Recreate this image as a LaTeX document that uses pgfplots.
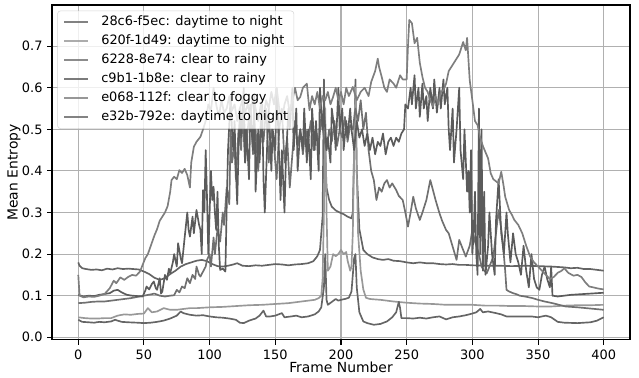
\documentclass[border=0pt]{standalone}
\usepackage{fontspec}
\setmainfont{DejaVu Sans}
\usepackage{pgfplots}
\pgfplotsset{compat=1.18}
\definecolor{cA}{HTML}{646464}
\definecolor{cB}{HTML}{989898}
\definecolor{cC}{HTML}{707070}
\definecolor{cD}{HTML}{5B5B5B}
\definecolor{cE}{HTML}{7E7E7E}
\definecolor{cF}{HTML}{656565}
\definecolor{gridgray}{HTML}{B0B0B0}
\definecolor{legendgray}{HTML}{CCCCCC}
\begin{document}
\begin{tikzpicture}
\begin{axis}[
 width=416.2pt, height=241.2pt, scale only axis,
 xmin=-20, xmax=420, ymin=-0.0065, ymax=0.799,
 xtick={0,50,100,150,200,250,300,350,400},
 xticklabels={0,50,100,150,200,250,300,350,400},
 ytick={0,0.1,0.2,0.3,0.4,0.5,0.6,0.7},
 yticklabels={0.0,0.1,0.2,0.3,0.4,0.5,0.6,0.7},
 grid=major, major grid style={color=gridgray, line width=0.75pt},
 axis line style={line width=0.75pt},
 tick style={black, line width=0.75pt}, major tick length=3.3pt, tick align=outside,
 xtick pos=left, ytick pos=left,
 tick label style={font=\fontsize{9.3}{11}\selectfont},
 label style={font=\fontsize{9.3}{11}\selectfont},
 xlabel={Frame Number}, ylabel={Mean Entropy},
 every axis x label/.style={at={(axis description cs:0.5,-0.083)}, anchor=center},
 every axis y label/.style={at={(axis description cs:-0.0658,0.5)}, rotate=90, anchor=center},
 legend cell align=left,
 legend style={at={(axis description cs:0.0092,0.983)}, anchor=north west, draw=legendgray, rounded corners=2pt, fill=white, fill opacity=0.8, draw opacity=0.8, text opacity=1, font=\fontsize{9.3}{11}\selectfont, inner xsep=4pt, inner ysep=3.65pt, row sep=4.68pt, nodes={inner sep=0pt, text height=7pt, text depth=2pt}, /tikz/every odd column/.append style={column sep=9pt}},
 legend image post style={line width=1.4pt},
 every axis plot/.append style={line width=1.2pt, line join=round},
]
% 28c6-f5ec
\addplot[cA] coordinates {(0,0.18) (1,0.172) (3,0.166) (6,0.164) (10,0.162) (14,0.163) (18,0.161) (22,0.165) (26,0.163) (30,0.166) (34,0.164) (38,0.165) (42,0.164) (46,0.163) (50,0.158) (54,0.152) (58,0.143) (62,0.138) (66,0.142) (70,0.152) (74,0.16) (78,0.17) (82,0.176) (86,0.18) (90,0.184) (94,0.186) (98,0.183) (102,0.176) (106,0.171) (110,0.17) (114,0.172) (118,0.175) (121,0.178) (125,0.172) (130,0.171) (135,0.173) (140,0.172) (145,0.174) (150,0.176) (155,0.175) (160,0.173) (165,0.175) (170,0.176) (175,0.178) (179,0.183) (182,0.195) (184,0.21) (186,0.29) (187,0.62) (188,0.45) (189,0.36) (191,0.33) (193,0.314) (196,0.305) (199,0.3) (202,0.296) (205,0.29) (208,0.286) (209,0.3) (210,0.45) (211,0.62) (212,0.4) (214,0.26) (217,0.21) (220,0.2) (224,0.192) (228,0.188) (232,0.186) (236,0.188) (240,0.184) (245,0.183) (250,0.18) (255,0.178) (260,0.18) (265,0.178) (270,0.178) (275,0.176) (280,0.175) (285,0.176) (290,0.174) (295,0.174) (300,0.173) (310,0.172) (320,0.172) (330,0.171) (340,0.172) (350,0.171) (360,0.17) (370,0.168) (375,0.166) (380,0.167) (385,0.164) (390,0.164) (395,0.162) (400,0.16)};
\addlegendentry{28c6-f5ec: daytime to night}
% 620f-1d49
\addplot[cB] coordinates {(0,0.048) (5,0.046) (10,0.045) (15,0.045) (20,0.046) (25,0.046) (30,0.052) (35,0.055) (40,0.054) (45,0.056) (50,0.057) (53,0.07) (56,0.06) (60,0.062) (65,0.07) (70,0.066) (75,0.066) (80,0.068) (85,0.07) (90,0.07) (95,0.071) (100,0.072) (110,0.073) (120,0.075) (130,0.077) (140,0.078) (150,0.08) (160,0.082) (170,0.086) (175,0.088) (180,0.09) (183,0.094) (185,0.1) (186,0.14) (187,0.3) (188,0.55) (189,0.3) (190,0.16) (192,0.17) (194,0.2) (196,0.195) (198,0.2) (200,0.21) (202,0.2) (204,0.205) (205,0.185) (207,0.16) (208,0.17) (209,0.25) (210,0.45) (211,0.6) (212,0.4) (213,0.25) (215,0.16) (217,0.115) (219,0.095) (222,0.092) (226,0.091) (230,0.09) (240,0.086) (250,0.083) (260,0.081) (270,0.08) (280,0.078) (290,0.078) (300,0.078) (310,0.076) (320,0.076) (330,0.075) (340,0.075) (350,0.074) (360,0.074) (370,0.076) (380,0.077) (390,0.077) (400,0.078)};
\addlegendentry{620f-1d49: daytime to night}
% 6228-8e74
\addplot[cC] coordinates {(0,0.082) (5,0.083) (10,0.085) (15,0.086) (20,0.086) (25,0.088) (30,0.09) (35,0.092) (40,0.094) (45,0.097) (50,0.1) (55,0.103) (58,0.105) (62,0.1) (66,0.098) (70,0.1) (73,0.101) (75,0.114) (77,0.108) (79,0.122) (81,0.118) (83,0.142) (85,0.13) (87,0.15) (89,0.14) (90,0.17) (92,0.15) (93,0.146) (95,0.158) (97,0.17) (98,0.186) (100,0.2) (101,0.17) (103,0.24) (104,0.2) (106,0.26) (108,0.23) (110,0.3) (111,0.27) (113,0.36) (115,0.32) (116,0.5) (117,0.42) (119,0.46) (120,0.38) (122,0.5) (124,0.45) (125,0.55) (127,0.42) (129,0.5) (131,0.56) (133,0.44) (135,0.5) (137,0.4) (139,0.52) (141,0.47) (143,0.55) (145,0.42) (147,0.5) (149,0.46) (151,0.38) (153,0.5) (155,0.55) (157,0.42) (159,0.48) (161,0.36) (163,0.44) (165,0.52) (167,0.46) (169,0.5) (171,0.44) (173,0.5) (175,0.47) (177,0.52) (179,0.45) (181,0.5) (183,0.46) (185,0.53) (187,0.48) (189,0.45) (191,0.5) (193,0.47) (195,0.52) (197,0.46) (199,0.5) (201,0.48) (203,0.53) (205,0.47) (207,0.51) (209,0.5) (211,0.55) (213,0.52) (215,0.57) (217,0.5) (219,0.54) (221,0.45) (223,0.4) (225,0.378) (227,0.33) (229,0.36) (231,0.35) (233,0.37) (235,0.378) (237,0.36) (239,0.37) (242,0.354) (244,0.34) (247,0.33) (249,0.3) (251,0.266) (253,0.3) (255,0.338) (257,0.31) (260,0.282) (262,0.3) (265,0.33) (268,0.378) (270,0.354) (272,0.33) (275,0.298) (277,0.28) (280,0.258) (282,0.25) (285,0.218) (288,0.186) (290,0.234) (293,0.21) (295,0.194) (298,0.22) (300,0.258) (302,0.23) (305,0.2) (307,0.17) (309,0.16) (311,0.154) (313,0.17) (316,0.194) (318,0.25) (320,0.306) (322,0.26) (323,0.234) (325,0.16) (326,0.114) (328,0.11) (331,0.106) (334,0.103) (336,0.1) (340,0.098) (346,0.094) (350,0.09) (355,0.086) (361,0.082) (366,0.078) (371,0.074) (380,0.072) (390,0.069) (400,0.066)};
\addlegendentry{6228-8e74: clear to rainy}
% c9b1-1b8e
\addplot[cD] coordinates {(0,0.102) (4,0.098) (8,0.1) (12,0.099) (16,0.102) (20,0.104) (24,0.106) (27,0.112) (30,0.114) (33,0.108) (37,0.102) (41,0.1) (45,0.099) (49,0.098) (51,0.112) (52,0.122) (54,0.115) (56,0.128) (57.5,0.134) (59,0.118) (60,0.114) (62,0.142) (63,0.105) (64,0.11) (66,0.15) (67.5,0.138) (69,0.165) (70,0.154) (72,0.18) (73,0.2) (75,0.17) (76,0.226) (78,0.19) (79,0.178) (81,0.24) (83,0.3) (84,0.258) (85,0.242) (87,0.29) (88,0.25) (90,0.306) (92,0.27) (93,0.258) (94,0.2) (95,0.354) (96,0.3) (97,0.45) (98,0.338) (99,0.2) (100,0.3) (101,0.4) (102,0.33) (103,0.362) (104,0.3) (105,0.258) (106,0.35) (107,0.22) (108,0.162) (110,0.165) (112,0.158) (113,0.314) (114,0.45) (116,0.58) (117,0.5) (118,0.45) (119,0.52) (120,0.4) (121,0.32) (122,0.45) (123,0.55) (124,0.48) (126,0.6) (127,0.42) (128,0.5) (130,0.38) (131,0.55) (133,0.45) (134,0.58) (135,0.35) (137,0.5) (138,0.42) (140,0.56) (141,0.38) (142,0.3) (144,0.48) (145,0.55) (147,0.4) (148,0.5) (150,0.45) (151,0.6) (152,0.52) (154,0.33) (155,0.45) (157,0.3) (158,0.42) (160,0.55) (161,0.5) (163,0.6) (164,0.45) (166,0.55) (167,0.4) (169,0.5) (171,0.45) (172,0.55) (174,0.42) (175,0.5) (177,0.38) (178,0.55) (180,0.45) (181,0.52) (183,0.4) (184,0.6) (186,0.5) (187,0.55) (189,0.45) (190,0.48) (192,0.42) (193,0.55) (195,0.5) (196,0.45) (198,0.6) (199,0.5) (201,0.55) (202,0.45) (204,0.52) (205,0.48) (207,0.55) (208,0.5) (210,0.45) (212,0.52) (214,0.48) (216,0.5) (218,0.46) (220,0.49) (222,0.45) (224,0.48) (226,0.44) (228,0.47) (230,0.46) (232,0.49) (234,0.44) (236,0.47) (238,0.48) (240,0.46) (242,0.48) (244,0.47) (246,0.49) (248,0.5) (249,0.56) (251,0.55) (253,0.6) (254,0.56) (256,0.63) (257,0.55) (259,0.6) (260,0.53) (262,0.61) (263,0.55) (265,0.58) (266,0.52) (268,0.6) (270,0.55) (271,0.62) (273,0.54) (275,0.6) (276,0.55) (278,0.62) (279,0.56) (281,0.6) (282,0.5) (283,0.45) (285,0.55) (286,0.42) (288,0.5) (290,0.6) (291,0.45) (293,0.38) (294,0.5) (296,0.35) (297,0.4) (298,0.3) (299,0.45) (300,0.2) (301,0.25) (302,0.35) (303,0.2) (304,0.15) (305,0.55) (306,0.2) (307,0.5) (308,0.16) (309,0.35) (310,0.15) (312,0.22) (313,0.3) (315,0.2) (317,0.15) (318,0.28) (320,0.38) (322,0.25) (324,0.2) (326,0.3) (327,0.25) (329,0.18) (331,0.25) (333,0.2) (335,0.18) (337,0.15) (339,0.22) (341,0.16) (343,0.12) (345,0.2) (347,0.14) (349,0.12) (351,0.114) (353,0.15) (355,0.17) (357,0.14) (359,0.12) (360,0.17) (361,0.1) (365,0.098) (370,0.1) (375,0.102) (380,0.103) (385,0.104) (390,0.105) (395,0.106) (400,0.107)};
\addlegendentry{c9b1-1b8e: clear to rainy}
% e068-112f
\addplot[cE] coordinates {(0,0.15) (1,0.1) (4,0.096) (8,0.098) (12,0.097) (16,0.1) (20,0.104) (24,0.118) (27,0.136) (29,0.13) (32,0.144) (35,0.138) (38,0.145) (41,0.15) (44,0.148) (47,0.158) (49,0.174) (51,0.19) (53,0.2) (55,0.218) (58,0.245) (60,0.26) (62,0.28) (64,0.29) (66,0.3) (68,0.315) (70,0.35) (71,0.378) (73,0.386) (75,0.38) (77,0.402) (79,0.395) (81,0.405) (83,0.39) (85,0.36) (86,0.42) (88,0.458) (90,0.47) (93,0.482) (95,0.5) (97,0.52) (99,0.56) (101,0.545) (103,0.6) (105,0.56) (107,0.53) (109,0.57) (111,0.54) (113,0.55) (115,0.58) (117,0.545) (119,0.56) (121,0.52) (123,0.55) (125,0.57) (127,0.54) (129,0.56) (131,0.53) (133,0.58) (135,0.55) (137,0.52) (139,0.56) (141,0.53) (143,0.57) (145,0.55) (147,0.59) (149,0.56) (151,0.6) (153,0.55) (155,0.52) (157,0.56) (159,0.58) (161,0.54) (163,0.57) (165,0.6) (167,0.57) (169,0.578) (171,0.6) (174,0.61) (176,0.546) (178,0.58) (180,0.56) (182,0.59) (184,0.55) (186,0.58) (188,0.57) (190,0.59) (192,0.56) (194,0.578) (196,0.6) (198,0.57) (200,0.59) (202,0.56) (204,0.6) (206,0.58) (209,0.602) (212,0.57) (215,0.59) (218,0.6) (221,0.58) (223,0.614) (226,0.64) (228,0.67) (229,0.65) (231,0.626) (233,0.6) (235,0.59) (237,0.62) (240,0.61) (242,0.6) (245,0.63) (247,0.62) (250,0.62) (251,0.7) (252,0.763) (254,0.755) (256,0.707) (258,0.72) (260,0.66) (262,0.626) (264,0.6) (266,0.59) (268,0.57) (270,0.554) (272,0.58) (274,0.56) (276,0.59) (278,0.594) (280,0.61) (282,0.64) (284,0.65) (286,0.66) (288,0.67) (290,0.68) (292,0.7) (293,0.71) (295,0.69) (296,0.72) (298,0.618) (300,0.57) (302,0.52) (304,0.51) (306,0.48) (308,0.46) (310,0.445) (312,0.43) (314,0.394) (316,0.38) (318,0.375) (320,0.37) (322,0.398) (324,0.36) (325,0.338) (328,0.306) (330,0.295) (332,0.282) (335,0.27) (338,0.25) (341,0.22) (344,0.194) (347,0.18) (350,0.17) (353,0.16) (356,0.15) (359,0.14) (362,0.145) (365,0.155) (368,0.16) (370,0.166) (373,0.155) (377,0.148) (380,0.15) (383,0.145) (386,0.132) (389,0.122) (392,0.12) (396,0.117) (400,0.115)};
\addlegendentry{e068-112f: clear to foggy}
% e32b-792e
\addplot[cF] coordinates {(0,0.042) (3,0.037) (8,0.036) (12,0.035) (16,0.037) (20,0.036) (25,0.038) (28,0.042) (30,0.04) (33,0.037) (38,0.036) (45,0.035) (50,0.034) (55,0.035) (60,0.037) (65,0.04) (70,0.045) (75,0.052) (78,0.062) (80,0.058) (85,0.054) (90,0.052) (95,0.053) (100,0.05) (105,0.048) (110,0.047) (115,0.045) (120,0.042) (123,0.035) (126,0.034) (130,0.04) (135,0.045) (138,0.052) (141,0.064) (143,0.05) (146,0.05) (150,0.052) (155,0.058) (157,0.048) (162,0.05) (166,0.052) (170,0.048) (175,0.05) (180,0.055) (183,0.062) (185,0.072) (187,0.12) (188,0.2) (189,0.09) (190,0.078) (193,0.085) (196,0.092) (198,0.088) (200,0.09) (203,0.092) (206,0.095) (208,0.11) (210,0.19) (211,0.2) (212,0.12) (214,0.06) (217,0.038) (220,0.034) (225,0.03) (230,0.032) (235,0.038) (239,0.048) (242,0.06) (244,0.085) (245,0.07) (246,0.046) (250,0.046) (255,0.045) (260,0.047) (265,0.045) (270,0.048) (275,0.05) (280,0.043) (285,0.048) (290,0.05) (295,0.053) (300,0.057) (303,0.06) (306,0.068) (308,0.06) (312,0.062) (318,0.058) (322,0.055) (326,0.05) (335,0.05) (345,0.05) (350,0.048) (356,0.052) (360,0.048) (365,0.037) (370,0.035) (380,0.034) (390,0.036) (395,0.04) (400,0.048)};
\addlegendentry{e32b-792e: daytime to night}
\coordinate (SW) at (rel axis cs:0,0);
\coordinate (NE) at (rel axis cs:1,1);
\end{axis}
\path ([shift={(-37.44pt,-25.9pt)}]SW) rectangle ([shift={(6.5pt,3.6pt)}]NE);
\end{tikzpicture}
\end{document}
